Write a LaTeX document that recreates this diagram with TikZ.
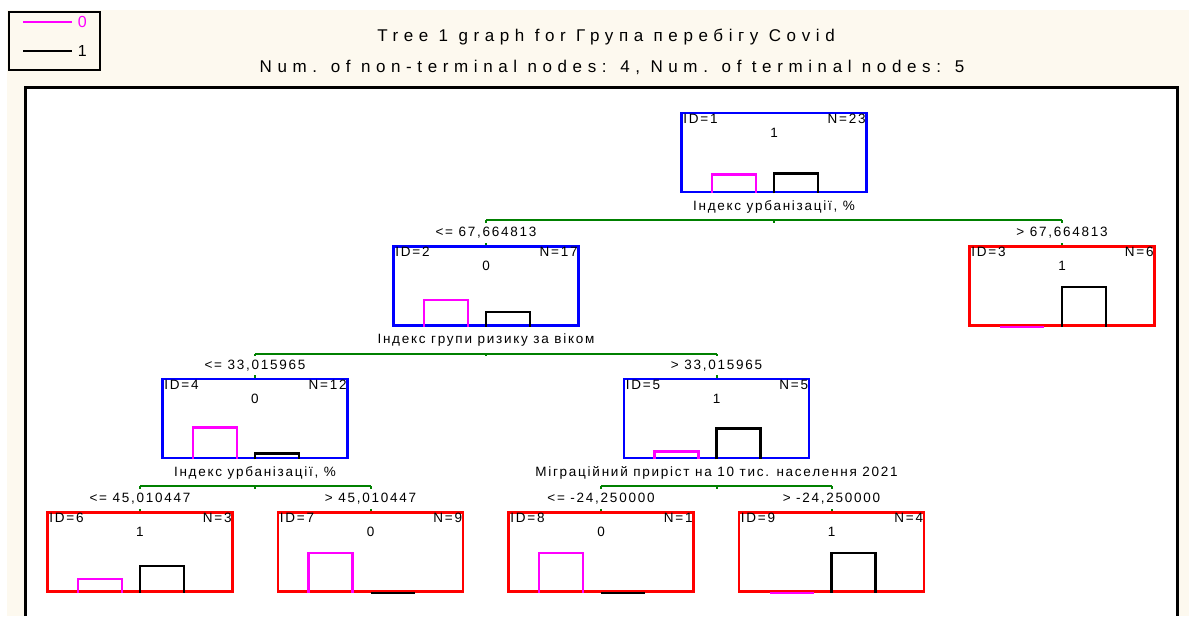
\documentclass[tikz,border=0pt]{standalone}
\usepackage{fontspec}
\setmainfont{Liberation Sans}
\newfontfamily\titleFont[LetterSpace=33]{Liberation Sans}
\newfontfamily\boxFont[LetterSpace=13]{Liberation Sans}
\usetikzlibrary{calc}
\definecolor{paneCream}{HTML}{FDF9EF}
\definecolor{splitGreen}{RGB}{0,128,0}
\definecolor{classPink}{RGB}{255,0,255}
\newcommand{\barWidth}[0]{44}
% name, x, y, colour, id, n, class, bar 0, bar 1
\newcommand{\histBox}[9]{
  \node[histbox, draw=#4] (#1) at (#2,#3) {};
  \node[boxtext, anchor=north west] (#1-id) at ($(#1.north west)+(3,2)$) {ID=#5};
  \node[boxtext, anchor=north east] (#1-n) at ($(#1.north east)+(-2,2)$) {N=#6};
  \node[boxtext] (#1-class) at ($(#1.north)+(0,21)$) {#7};
  \draw[bar, classPink] ($(#1.south)+(-62,0)$) -- ++(0,-#8) -- ++(\barWidth,0) -- ++(0,#8);
  \draw[bar, black] (#1.south) -- ++(0,-#9) -- ++(\barWidth,0) -- ++(0,#9);
}
% parent, left, right, variable, left cut, right cut
\newcommand{\splitOn}[6]{
  \node[boxtext] (#1-var) at ($(#1.south)+(0,13.5)$) {#4};
  \coordinate (#1-fork) at ($(#1.south)+(0,27)$);
  \draw[splitline] (#2.north |- #1-fork) -- (#3.north |- #1-fork);
  \draw[splitline] (#1-fork) -- ++(0,2.5);
  \draw[splitline] (#2.north |- #1-fork) -- ++(0,2.5);
  \draw[splitline] (#3.north |- #1-fork) -- ++(0,2.5);
  \draw[splitline] (#2.north) -- ++(0,-2.5);
  \draw[splitline] (#3.north) -- ++(0,-2.5);
  \node[boxtext] (#2-cut) at ($(#2.north)+(0,-12.5)$) {<= #5};
  \node[boxtext] (#3-cut) at ($(#3.north)+(0,-12.5)$) {> #6};
}

\begin{document}
\begin{tikzpicture}[x=1pt, y=-1pt]
  \tikzset{
    histbox/.style={rectangle, minimum width=185pt, minimum height=79pt, inner sep=0pt, line width=2.5pt},
    boxtext/.style={font=\boxFont\fontsize{13.5}{16}\selectfont, inner sep=0pt},
    keytext/.style={font=\fontsize{16}{18}\selectfont, inner sep=0pt},
    titletext/.style={font=\titleFont\fontsize{17}{20}\selectfont, inner sep=0pt},
    bar/.style={line width=2.5pt},
    splitline/.style={splitGreen, line width=2pt}
  }
  \useasboundingbox (0,0) rectangle (1189,616);
  \fill[paneCream] (7,10) rectangle (1189,616);
  \fill[white] (25,87) rectangle (1177,616);
  \draw[line width=3pt] (25,616) -- (25,87) -- (1177,87) -- (1177,616);

  \draw[line width=2pt, fill=paneCream] (9,12) rectangle (100,70);
  \coordinate (key0) at (23,22);
  \coordinate (key1) at (23,51);
  \draw[classPink, line width=1.5pt] (key0) -- ++(49,0) node[keytext, anchor=west, xshift=5pt] (key0-text) {0};
  \draw[black, line width=1.5pt] (key1) -- ++(49,0) node[keytext, anchor=west, xshift=5pt] (key1-text) {1};

  \node[titletext] (title) at (606,37) {Tree 1 graph for Група перебігу Covid};
  \node[titletext] (subtitle) at (612,67) {Num. of non-terminal nodes: 4,  Num. of terminal nodes: 5};

  \histBox{n1}{774}{152.5}{blue}{1}{23}{1}{19}{20}
  \histBox{n2}{486}{286}{blue}{2}{17}{0}{27}{15}
  \histBox{n3}{1062}{286}{red}{3}{6}{1}{0}{40}
  \histBox{n4}{255}{418.5}{blue}{4}{12}{0}{32}{6}
  \histBox{n5}{716.5}{418.5}{blue}{5}{5}{1}{8}{31}
  \histBox{n6}{140}{552}{red}{6}{3}{1}{14}{27}
  \histBox{n7}{370.5}{552}{red}{7}{9}{0}{40}{0}
  \histBox{n8}{601}{552}{red}{8}{1}{0}{40}{0}
  \histBox{n9}{831.5}{552}{red}{9}{4}{1}{0}{40}

  \splitOn{n1}{n2}{n3}{Індекс урбанізації, \%}{67,664813}{67,664813}
  \splitOn{n2}{n4}{n5}{Індекс групи ризику за віком}{33,015965}{33,015965}
  \splitOn{n4}{n6}{n7}{Індекс урбанізації, \%}{45,010447}{45,010447}
  \splitOn{n5}{n8}{n9}{Міграційний приріст на 10 тис. населення 2021}{-24,250000}{-24,250000}
\end{tikzpicture}
\end{document}
